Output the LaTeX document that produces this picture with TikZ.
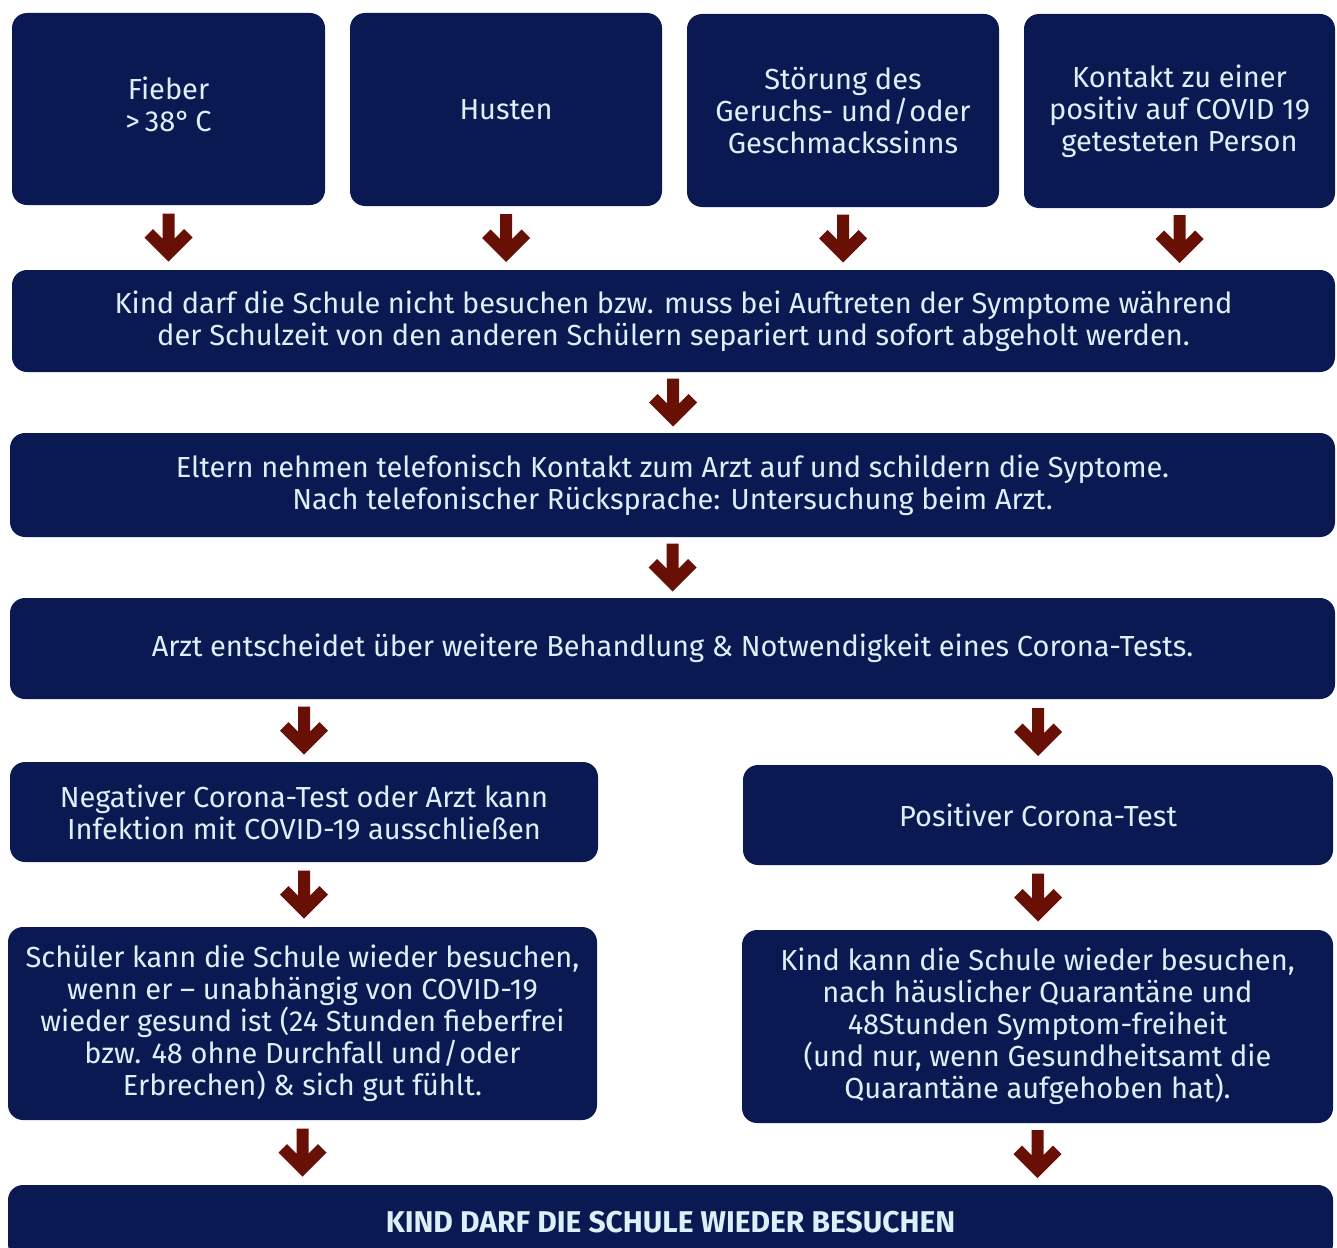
\documentclass[tikz,border=0pt]{standalone}
\usepackage{fontspec}
\setmainfont{Fira Sans}
\usetikzlibrary{calc}
\definecolor{navy}{RGB}{11,25,82}
\definecolor{boxtext}{RGB}{220,240,250}
\definecolor{arrowred}{RGB}{104,16,6}
\tikzset{
  box/.style={fill=navy, rounded corners=15pt, text=boxtext, align=center, inner sep=0pt,
    font=\fontsize{29}{32}\selectfont},
  flowarrow/.style={to path={($(\tikztostart)!0.5!(\tikztotarget)$) ++(-6,-24) -- ++(12,0) -- ++(0,25)
    -- ++(9.5,-9.5) -- ++(8.5,8.5) -- ++(-24,24) -- ++(-24,-24) -- ++(8.5,-8.5) -- ++(9.5,9.5) -- cycle}},
  conn/.style={fill=arrowred, draw=none}
}
\begin{document}
\begin{tikzpicture}[x=1pt,y=-1pt]
\clip (0,0) rectangle (1337,1247);
\fill[white] (0,0) rectangle (1337,1247);
% top row
\node[box, minimum width=313, minimum height=192] (fieber) at (168.5,109) {Fieber\\>\,38°\,C\strut};
\node[box, minimum width=312, minimum height=193] (husten) at (506,109.5) {Husten};
\node[box, minimum width=312, minimum height=193] (stoer) at (843,110.5) {Störung des\\Geruchs- und\kern1pt/\kern1pt oder\\Geschmackssinns};
\node[box, minimum width=311, minimum height=194] (kontakt) at (1179.5,111) {Kontakt zu einer\\positiv auf COVID 19\\getesteten Person};
% full width rows
\node[box, minimum width=1323, minimum height=102] (kind) at (673.5,321) {Kind darf die Schule nicht besuchen bzw. muss bei Auftreten der Symptome während\\der Schulzeit von den anderen Schülern separiert und sofort abgeholt werden.};
\node[box, minimum width=1325, minimum height=104] (eltern) at (672.5,485) {Eltern nehmen telefonisch Kontakt zum Arzt auf und schildern die Syptome.\\Nach telefonischer Rücksprache: Untersuchung beim Arzt.};
\node[box, minimum width=1325, minimum height=101] (arzt) at (672.5,648.5) {Arzt entscheidet über weitere Behandlung \& Notwendigkeit eines Corona-Tests.};
% branches
\node[box, minimum width=588, minimum height=100] (neg) at (304,812) {Negativer Corona-Test oder Arzt kann\\Infektion mit COVID-19 ausschließen};
\node[box, minimum width=590, minimum height=100] (pos) at (1038,815) {Positiver Corona-Test};
\node[box, minimum width=589, minimum height=193] (schueler) at (302.5,1023.5) {Schüler kann die Schule wieder besuchen,\\wenn er – unabhängig von COVID-19\\wieder gesund ist (24 Stunden fieberfrei\\bzw. 48 ohne Durchfall und\kern1pt/\kern1pt oder\\Erbrechen) \& sich gut fühlt.};
\node[box, minimum width=591, minimum height=193] (kindkann) at (1037.5,1026.5) {Kind kann die Schule wieder besuchen,\\nach häuslicher Quarantäne und\\48Stunden Symptom-freiheit\\(und nur, wenn Gesundheitsamt die\\Quarantäne aufgehoben hat).};
\node[box, minimum width=1325, minimum height=74, font=\bfseries\fontsize{30}{32}\selectfont] (final) at (670.5,1222) {KIND DARF DIE SCHULE WIEDER BESUCHEN};
% connectors
\fill[conn] (fieber.south) to[flowarrow] (fieber.south |- kind.north);
\fill[conn] (husten.south) to[flowarrow] (husten.south |- kind.north);
\fill[conn] (stoer.south) to[flowarrow] (stoer.south |- kind.north);
\fill[conn] (kontakt.south) to[flowarrow] (kontakt.south |- kind.north);
\fill[conn] (kind.south) to[flowarrow] (eltern.north);
\fill[conn] (eltern.south) to[flowarrow] (arzt.north);
\fill[conn] (arzt.south -| neg.north) to[flowarrow] (neg.north);
\fill[conn] (arzt.south -| pos.north) to[flowarrow] (pos.north);
\fill[conn] (neg.south) to[flowarrow] (neg.south |- schueler.north);
\fill[conn] (pos.south) to[flowarrow] (pos.south |- kindkann.north);
\fill[conn] (schueler.south) to[flowarrow] (schueler.south |- final.north);
\fill[conn] (kindkann.south) to[flowarrow] (kindkann.south |- final.north);
\end{tikzpicture}
\end{document}
